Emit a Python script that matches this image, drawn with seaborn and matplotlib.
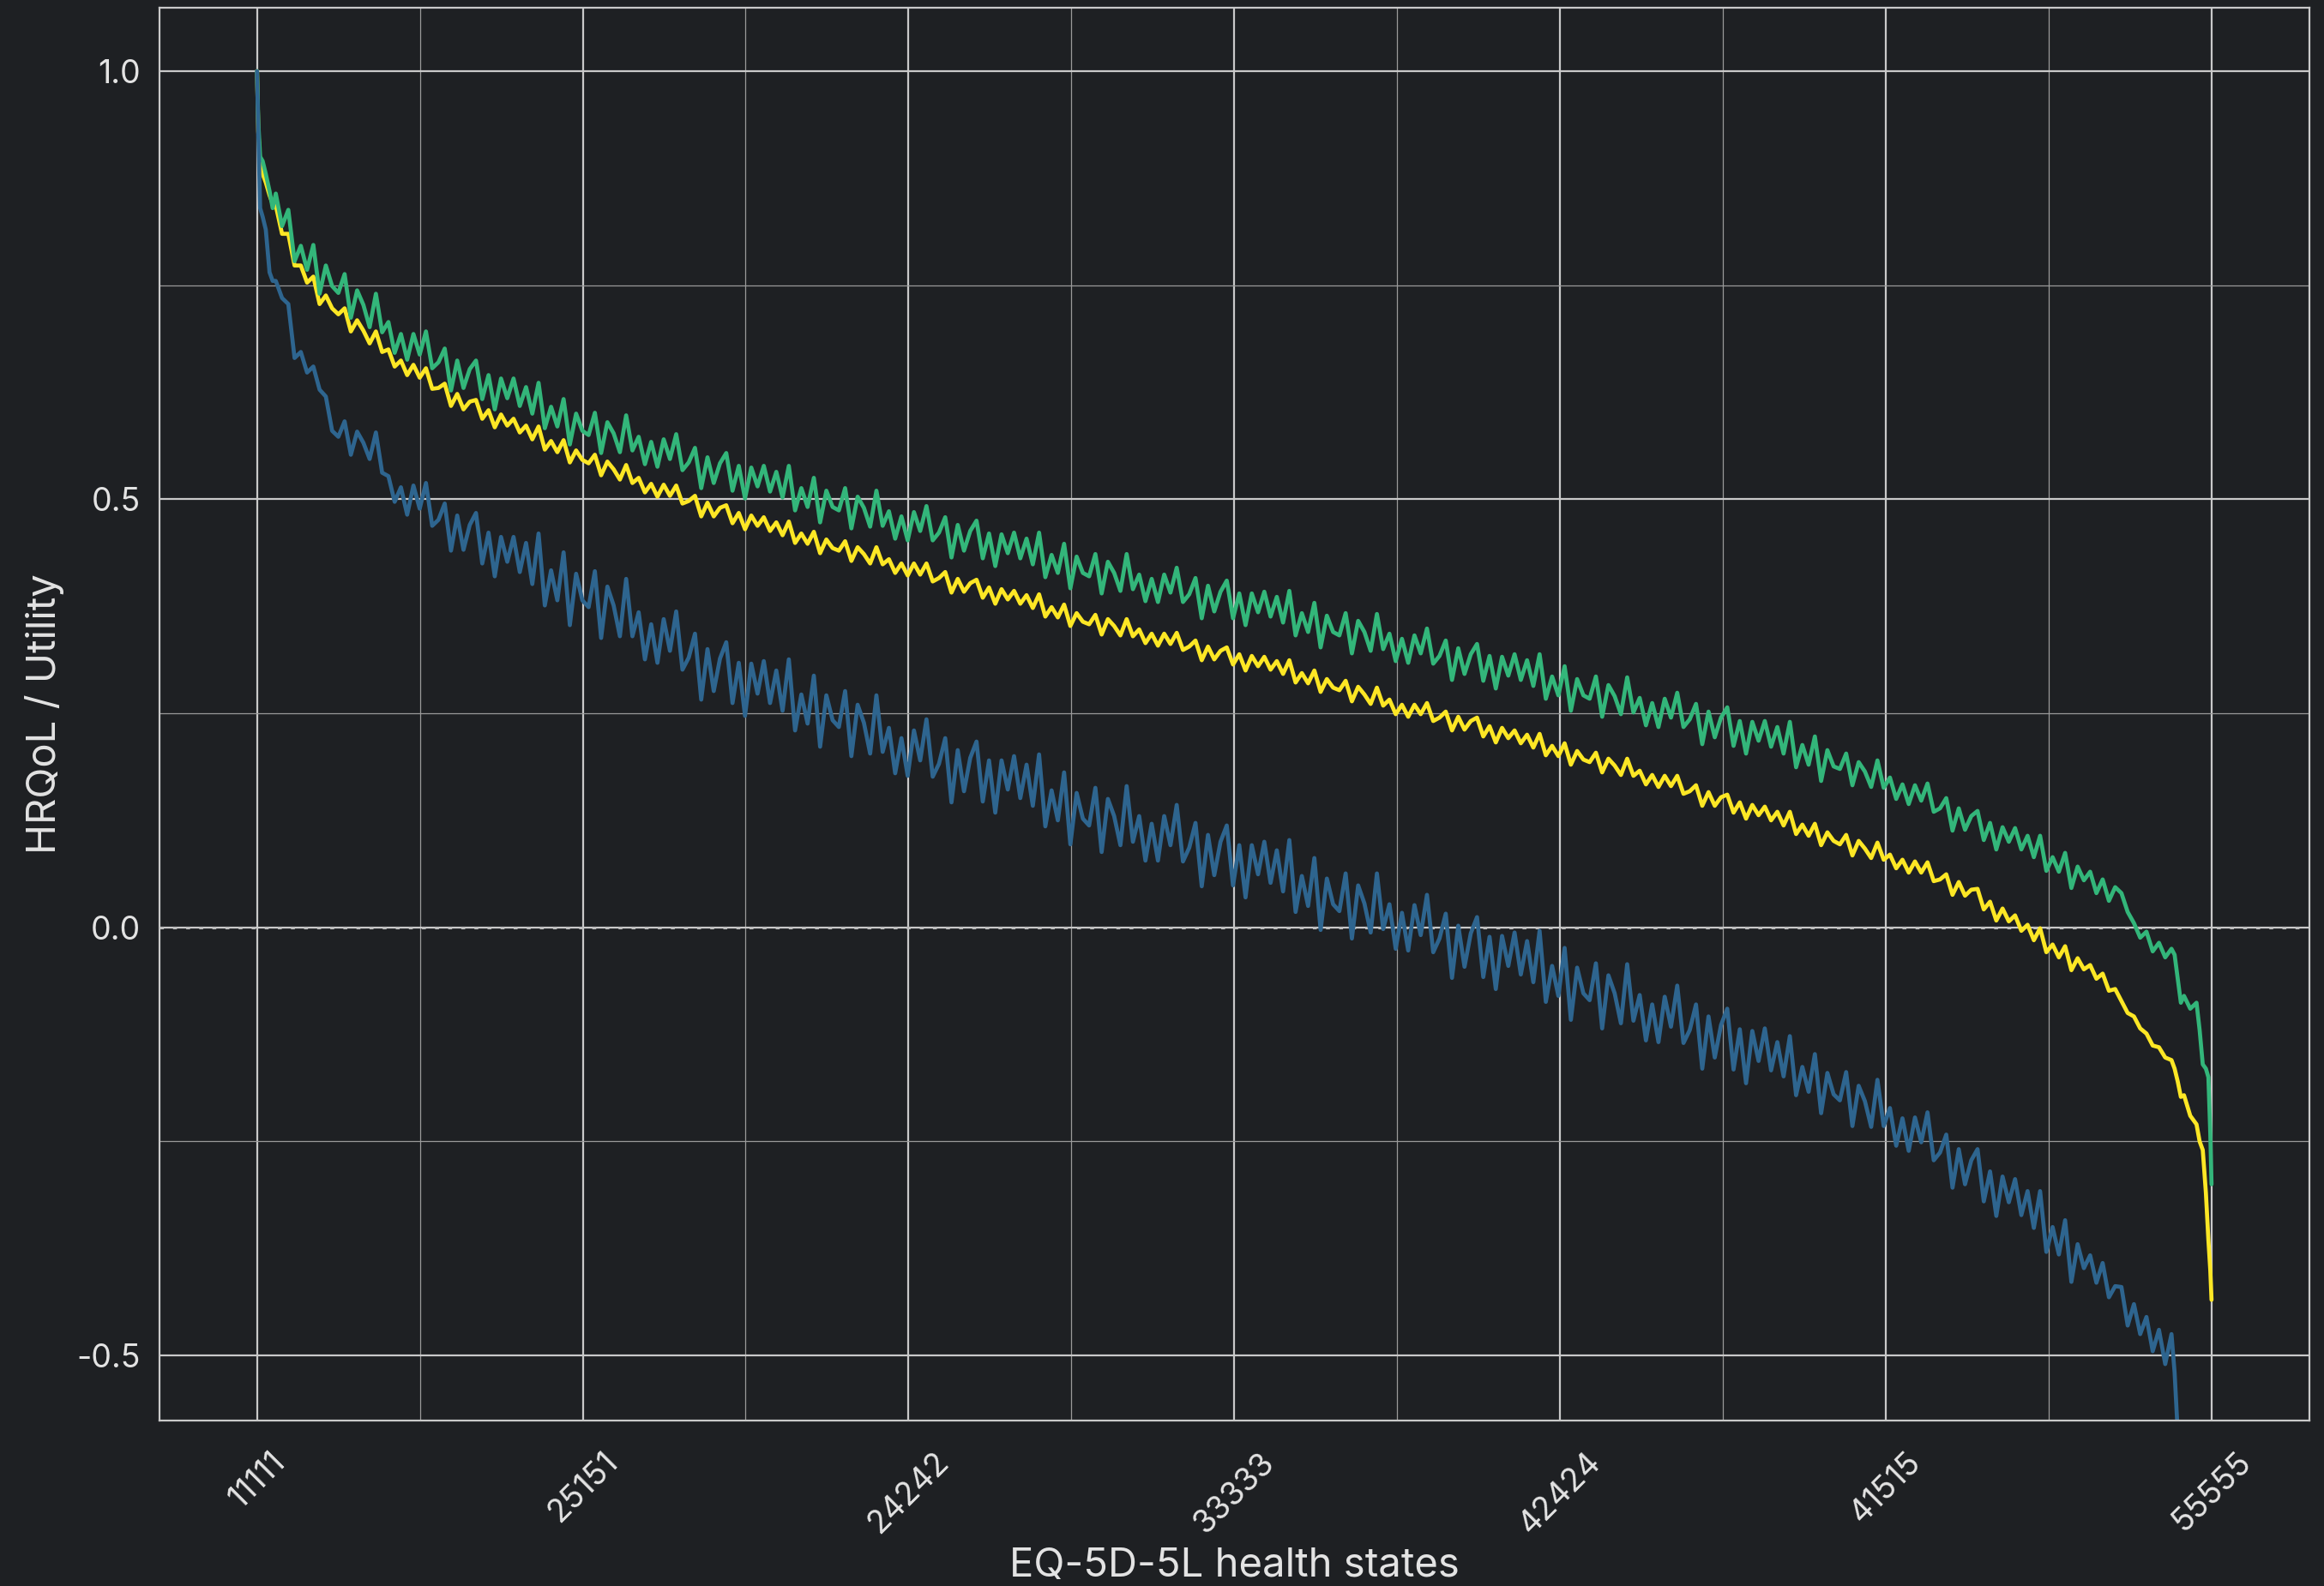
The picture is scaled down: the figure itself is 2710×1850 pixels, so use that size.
import matplotlib.pyplot as plt
import numpy as np
import pandas as pd
import seaborn as sns

# ranked EQ-5D-5L states (0 = 11111 ... 3124 = 55555), sampled positions
head_idx = [0, 2, 5, 9, 14, 20, 25]
body_idx = list(range(30, 2980, 10))
tail_idx = [2980, 2990, 3000, 3010, 3020, 3030, 3040, 3050, 3060, 3065,
            3070, 3075, 3080, 3090, 3100, 3105, 3110, 3115, 3119, 3122, 3124]
state_idx = head_idx + body_idx + tail_idx

tick_labels = ["11111", "25151", "24242", "33333", "42424", "41515", "55555"]

# utilities, one list per value set (10 values per 100 states)
green_vals = [
    1.0, 0.94, 0.90, 0.895, 0.88, 0.86, 0.84,
    0.857, 0.819, 0.838, 0.778, 0.796, 0.768, 0.797, 0.740, 0.773, 0.749,
    0.741, 0.763, 0.712, 0.744, 0.727, 0.701, 0.740, 0.695, 0.707, 0.671,
    0.693, 0.663, 0.693, 0.669, 0.696, 0.653, 0.660, 0.676, 0.627, 0.662,
    0.630, 0.652, 0.662, 0.617, 0.645, 0.605, 0.641, 0.618, 0.641, 0.609,
    0.631, 0.600, 0.636, 0.583, 0.608, 0.585, 0.617, 0.564, 0.600, 0.580,
    0.575, 0.601, 0.554, 0.590, 0.577, 0.555, 0.598, 0.557, 0.573, 0.541,
    0.567, 0.538, 0.570, 0.547, 0.576, 0.534, 0.543, 0.560, 0.513, 0.549,
    0.519, 0.542, 0.554, 0.510, 0.539, 0.501, 0.537, 0.515, 0.539, 0.509,
    0.532, 0.502, 0.539, 0.487, 0.513, 0.491, 0.525, 0.473, 0.510, 0.491,
    0.487, 0.513, 0.466, 0.503, 0.490, 0.468, 0.510, 0.469, 0.486, 0.454,
    0.480, 0.452, 0.485, 0.463, 0.492, 0.452, 0.461, 0.479, 0.432, 0.470,
    0.440, 0.463, 0.475, 0.431, 0.460, 0.422, 0.459, 0.437, 0.461, 0.431,
    0.454, 0.424, 0.461, 0.409, 0.435, 0.414, 0.448, 0.396, 0.433, 0.414,
    0.410, 0.436, 0.390, 0.427, 0.414, 0.393, 0.436, 0.395, 0.412, 0.381,
    0.407, 0.380, 0.412, 0.391, 0.420, 0.380, 0.389, 0.408, 0.361, 0.399,
    0.369, 0.392, 0.405, 0.361, 0.390, 0.353, 0.390, 0.368, 0.392, 0.363,
    0.386, 0.356, 0.393, 0.341, 0.367, 0.345, 0.379, 0.327, 0.364, 0.345,
    0.341, 0.367, 0.320, 0.358, 0.345, 0.323, 0.366, 0.325, 0.343, 0.311,
    0.337, 0.309, 0.341, 0.320, 0.349, 0.308, 0.317, 0.335, 0.289, 0.326,
    0.296, 0.319, 0.331, 0.288, 0.317, 0.279, 0.316, 0.294, 0.319, 0.289,
    0.312, 0.282, 0.319, 0.267, 0.293, 0.271, 0.305, 0.253, 0.290, 0.271,
    0.267, 0.293, 0.246, 0.283, 0.270, 0.249, 0.292, 0.251, 0.268, 0.236,
    0.262, 0.234, 0.267, 0.245, 0.274, 0.234, 0.243, 0.261, 0.214, 0.252,
    0.222, 0.245, 0.257, 0.212, 0.241, 0.203, 0.240, 0.218, 0.241, 0.211,
    0.234, 0.203, 0.240, 0.187, 0.213, 0.190, 0.223, 0.171, 0.207, 0.188,
    0.185, 0.203, 0.166, 0.193, 0.182, 0.164, 0.195, 0.163, 0.175, 0.150,
    0.167, 0.144, 0.166, 0.148, 0.168, 0.135, 0.139, 0.151, 0.113, 0.139,
    0.114, 0.130, 0.136, 0.102, 0.122, 0.091, 0.117, 0.100, 0.116, 0.091,
    0.107, 0.082, 0.107, 0.066, 0.082, 0.065, 0.087, 0.046, 0.071, 0.055,
    0.065, 0.040, 0.056, 0.031, 0.047,
    0.04, 0.018, 0.005, -0.012, -0.005, -0.028, -0.018, -0.035, -0.025, -0.032,
    -0.06, -0.088, -0.08, -0.095, -0.088, -0.12, -0.16, -0.165, -0.175, -0.24, -0.30,
]

yellow_vals = [
    1.0, 0.93, 0.89, 0.88, 0.87, 0.855, 0.845,
    0.843, 0.810, 0.810, 0.773, 0.773, 0.753, 0.760, 0.728, 0.738, 0.723,
    0.716, 0.723, 0.696, 0.709, 0.697, 0.682, 0.696, 0.672, 0.675, 0.655,
    0.662, 0.645, 0.657, 0.642, 0.653, 0.629, 0.630, 0.635, 0.609, 0.623,
    0.605, 0.614, 0.616, 0.594, 0.604, 0.584, 0.599, 0.586, 0.594, 0.578,
    0.586, 0.570, 0.585, 0.558, 0.568, 0.555, 0.569, 0.543, 0.557, 0.546,
    0.542, 0.552, 0.528, 0.544, 0.535, 0.523, 0.540, 0.519, 0.525, 0.508,
    0.518, 0.503, 0.517, 0.504, 0.516, 0.495, 0.498, 0.504, 0.480, 0.496,
    0.480, 0.490, 0.493, 0.472, 0.484, 0.465, 0.481, 0.469, 0.479, 0.463,
    0.473, 0.458, 0.474, 0.449, 0.460, 0.448, 0.462, 0.437, 0.453, 0.443,
    0.440, 0.451, 0.428, 0.444, 0.436, 0.425, 0.444, 0.424, 0.430, 0.414,
    0.425, 0.411, 0.425, 0.412, 0.425, 0.404, 0.408, 0.415, 0.391, 0.407,
    0.392, 0.402, 0.406, 0.385, 0.397, 0.378, 0.395, 0.383, 0.393, 0.378,
    0.388, 0.373, 0.389, 0.363, 0.374, 0.362, 0.377, 0.352, 0.367, 0.357,
    0.354, 0.365, 0.342, 0.360, 0.352, 0.341, 0.360, 0.340, 0.348, 0.332,
    0.343, 0.329, 0.343, 0.331, 0.344, 0.324, 0.328, 0.335, 0.312, 0.328,
    0.313, 0.323, 0.327, 0.307, 0.319, 0.300, 0.317, 0.305, 0.316, 0.301,
    0.311, 0.296, 0.312, 0.286, 0.297, 0.285, 0.300, 0.275, 0.290, 0.280,
    0.277, 0.288, 0.264, 0.281, 0.272, 0.261, 0.280, 0.259, 0.266, 0.249,
    0.260, 0.246, 0.260, 0.249, 0.262, 0.241, 0.245, 0.252, 0.230, 0.246,
    0.231, 0.241, 0.245, 0.223, 0.235, 0.216, 0.233, 0.221, 0.230, 0.215,
    0.225, 0.210, 0.226, 0.201, 0.212, 0.200, 0.215, 0.190, 0.206, 0.196,
    0.193, 0.204, 0.181, 0.197, 0.189, 0.178, 0.197, 0.177, 0.183, 0.167,
    0.178, 0.164, 0.177, 0.165, 0.177, 0.156, 0.159, 0.166, 0.142, 0.158,
    0.142, 0.152, 0.155, 0.134, 0.146, 0.127, 0.143, 0.131, 0.141, 0.125,
    0.135, 0.119, 0.135, 0.109, 0.120, 0.107, 0.121, 0.096, 0.111, 0.101,
    0.097, 0.108, 0.084, 0.101, 0.092, 0.081, 0.099, 0.079, 0.085, 0.069,
    0.079, 0.064, 0.077, 0.064, 0.076, 0.054, 0.056, 0.062, 0.038, 0.053,
    0.037, 0.044, 0.045, 0.021, 0.030, 0.008, 0.022, 0.007, 0.014, -0.004,
    0.003, -0.015, -0.001, -0.029, -0.020, -0.035, -0.022, -0.050, -0.036, -0.049,
    -0.044, -0.060, -0.054, -0.074, -0.072,
    -0.086, -0.10, -0.104, -0.118, -0.124, -0.138, -0.14, -0.152, -0.155, -0.165,
    -0.18, -0.198, -0.196, -0.22, -0.23, -0.25, -0.26, -0.31, -0.365, -0.40, -0.435,
]

blue_vals = [
    1.0, 0.93, 0.84, 0.83, 0.815, 0.765, 0.755,
    0.755, 0.735, 0.728, 0.665, 0.672, 0.648, 0.655, 0.628, 0.620, 0.580,
    0.573, 0.591, 0.552, 0.579, 0.566, 0.547, 0.578, 0.531, 0.527, 0.497,
    0.514, 0.482, 0.516, 0.489, 0.519, 0.469, 0.476, 0.495, 0.440, 0.481,
    0.441, 0.470, 0.484, 0.425, 0.461, 0.410, 0.456, 0.427, 0.456, 0.415,
    0.449, 0.401, 0.460, 0.376, 0.417, 0.382, 0.438, 0.353, 0.413, 0.382,
    0.374, 0.416, 0.338, 0.398, 0.376, 0.340, 0.407, 0.340, 0.368, 0.313,
    0.354, 0.309, 0.360, 0.323, 0.369, 0.301, 0.315, 0.343, 0.266, 0.325,
    0.276, 0.314, 0.333, 0.262, 0.309, 0.247, 0.308, 0.273, 0.311, 0.262,
    0.300, 0.253, 0.313, 0.230, 0.272, 0.238, 0.294, 0.211, 0.271, 0.242,
    0.234, 0.276, 0.200, 0.260, 0.239, 0.203, 0.271, 0.205, 0.233, 0.180,
    0.221, 0.177, 0.230, 0.195, 0.243, 0.176, 0.191, 0.221, 0.146, 0.207,
    0.159, 0.198, 0.217, 0.147, 0.195, 0.134, 0.195, 0.161, 0.200, 0.151,
    0.190, 0.142, 0.202, 0.118, 0.160, 0.125, 0.181, 0.097, 0.157, 0.127,
    0.119, 0.163, 0.088, 0.150, 0.130, 0.096, 0.165, 0.100, 0.130, 0.078,
    0.121, 0.078, 0.130, 0.096, 0.143, 0.077, 0.093, 0.122, 0.048, 0.108,
    0.061, 0.100, 0.119, 0.049, 0.096, 0.035, 0.096, 0.062, 0.100, 0.052,
    0.090, 0.042, 0.102, 0.018, 0.060, 0.025, 0.081, -0.003, 0.057, 0.027,
    0.019, 0.063, -0.013, 0.049, 0.028, -0.006, 0.063, -0.002, 0.027, -0.025,
    0.017, -0.027, 0.026, -0.009, 0.038, -0.029, -0.013, 0.016, -0.059, 0.002,
    -0.046, -0.007, 0.012, -0.058, -0.011, -0.072, -0.010, -0.045, -0.006, -0.055,
    -0.016, -0.064, -0.004, -0.087, -0.045, -0.080, -0.024, -0.108, -0.047, -0.077,
    -0.085, -0.042, -0.118, -0.056, -0.077, -0.112, -0.043, -0.109, -0.079, -0.132,
    -0.090, -0.134, -0.081, -0.116, -0.068, -0.135, -0.120, -0.090, -0.165, -0.104,
    -0.152, -0.114, -0.095, -0.166, -0.119, -0.182, -0.121, -0.156, -0.118, -0.167,
    -0.134, -0.174, -0.127, -0.196, -0.163, -0.192, -0.148, -0.217, -0.170, -0.195,
    -0.202, -0.169, -0.232, -0.185, -0.203, -0.233, -0.178, -0.232, -0.211, -0.255,
    -0.223, -0.261, -0.222, -0.251, -0.216, -0.272, -0.263, -0.242, -0.304, -0.259,
    -0.300, -0.272, -0.259, -0.320, -0.285, -0.337, -0.291, -0.321, -0.294, -0.336,
    -0.308, -0.351, -0.308, -0.379, -0.350, -0.382, -0.342, -0.414, -0.370, -0.398,
    -0.383, -0.415, -0.392, -0.432, -0.419,
    -0.42, -0.465, -0.44, -0.475, -0.455, -0.495, -0.47, -0.51, -0.475, -0.52,
    -0.59, -0.62, -0.64, -0.66, -0.68, -0.69, -0.70, -0.72, -0.73, -0.74, -0.75,
]

assert len(green_vals) == len(yellow_vals) == len(blue_vals) == len(state_idx)

series_names = ["set_yellow", "set_green", "set_blue"]  # drawing order
series_colors = ["#fde725", "#33b67a", "#2e658f"]

bg = "#1e2023"
fg = "#e3e3e3"
grid_col = "#c9c9c9"

df = pd.concat(
    [
        pd.DataFrame({"state": state_idx, "utility": vals, "value_set": name})
        for name, vals in zip(series_names, [yellow_vals, green_vals, blue_vals])
    ],
    ignore_index=True,
)

sns.set_theme(style="dark")
plt.rcParams["font.family"] = ["Inter", "DejaVu Sans"]
plt.rcParams["axes.unicode_minus"] = False

fig = plt.figure(figsize=(27.1, 18.5), dpi=100, facecolor=bg)
ax = fig.add_axes([0.0686, 0.1043, 0.925, 0.8908])
ax.set_facecolor(bg)

sns.lineplot(
    data=df, x="state", y="utility", hue="value_set",
    hue_order=series_names, palette=series_colors,
    linewidth=3.4, legend=False, estimator=None, sort=False, ax=ax,
)

# ticks and grid
ax.set_xticks(np.linspace(0, 3124, 7))
ax.set_xticks(np.linspace(0, 3124, 13)[1::2], minor=True)
ax.set_xticklabels(tick_labels, rotation=45, ha="center")
ax.set_yticks([-0.5, 0.0, 0.5, 1.0])
ax.set_yticks([-0.25, 0.25, 0.75], minor=True)
ax.set_yticklabels(["-0.5", "0.0", "0.5", "1.0"])

ax.set_xlim(-156, 3280)
ax.set_ylim(-0.576, 1.074)

ax.set_axisbelow(True)
ax.grid(which="major", color=grid_col, linewidth=1.6)
ax.grid(which="minor", color="#9a9a9a", linewidth=0.9)
ax.axhline(0, color="#bdbdbd", linewidth=2.2, linestyle=(0, (1.5, 3.5)), zorder=1)

ax.tick_params(axis="both", which="both", length=0, colors=fg, labelsize=27)
ax.tick_params(axis="x", pad=22)
ax.tick_params(axis="y", pad=16)

for sp in ax.spines.values():
    sp.set_visible(True)
    sp.set_color(grid_col)
    sp.set_linewidth(1.6)

ax.set_xlabel("EQ-5D-5L health states", fontsize=34, color=fg, labelpad=6)
ax.set_ylabel("HRQoL / Utility", fontsize=34, color=fg, labelpad=10)

fig.savefig("out.png", dpi=100, facecolor=bg)
